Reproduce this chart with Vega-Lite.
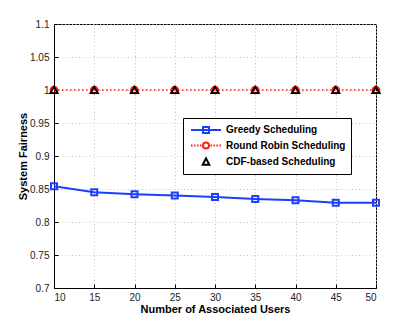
{
  "$schema": "https://vega.github.io/schema/vega-lite/v6.json",
  "width": 322,
  "height": 264,
  "autosize": {"type": "none"},
  "padding": {"left": 54, "top": 24, "right": 39, "bottom": 37},
  "background": "white",
  "config": {
    "font": "Liberation Sans",
    "view": {"stroke": "black", "strokeWidth": 1},
    "axis": {
      "labelFont": "Liberation Sans",
      "labelFontSize": 10,
      "labelColor": "#222",
      "titleFont": "Liberation Sans",
      "titleFontSize": 11,
      "titleFontWeight": "bold",
      "titleColor": "black",
      "gridColor": "#c4c4c4",
      "gridDash": [1, 2.5],
      "gridWidth": 1,
      "domainColor": "black",
      "tickColor": "black",
      "tickSize": -4,
      "labelPadding": 8
    }
  },
  "data": {
    "values": [
      {"series": "Greedy Scheduling", "users": 10, "fairness": 0.854},
      {"series": "Greedy Scheduling", "users": 15, "fairness": 0.845},
      {"series": "Greedy Scheduling", "users": 20, "fairness": 0.842},
      {"series": "Greedy Scheduling", "users": 25, "fairness": 0.840},
      {"series": "Greedy Scheduling", "users": 30, "fairness": 0.838},
      {"series": "Greedy Scheduling", "users": 35, "fairness": 0.835},
      {"series": "Greedy Scheduling", "users": 40, "fairness": 0.833},
      {"series": "Greedy Scheduling", "users": 45, "fairness": 0.829},
      {"series": "Greedy Scheduling", "users": 50, "fairness": 0.829},
      {"series": "Round Robin Scheduling", "users": 10, "fairness": 1.0},
      {"series": "Round Robin Scheduling", "users": 15, "fairness": 1.0},
      {"series": "Round Robin Scheduling", "users": 20, "fairness": 1.0},
      {"series": "Round Robin Scheduling", "users": 25, "fairness": 1.0},
      {"series": "Round Robin Scheduling", "users": 30, "fairness": 1.0},
      {"series": "Round Robin Scheduling", "users": 35, "fairness": 1.0},
      {"series": "Round Robin Scheduling", "users": 40, "fairness": 1.0},
      {"series": "Round Robin Scheduling", "users": 45, "fairness": 1.0},
      {"series": "Round Robin Scheduling", "users": 50, "fairness": 1.0},
      {"series": "CDF-based Scheduling", "users": 10, "fairness": 1.0},
      {"series": "CDF-based Scheduling", "users": 15, "fairness": 1.0},
      {"series": "CDF-based Scheduling", "users": 20, "fairness": 1.0},
      {"series": "CDF-based Scheduling", "users": 25, "fairness": 1.0},
      {"series": "CDF-based Scheduling", "users": 30, "fairness": 1.0},
      {"series": "CDF-based Scheduling", "users": 35, "fairness": 1.0},
      {"series": "CDF-based Scheduling", "users": 40, "fairness": 1.0},
      {"series": "CDF-based Scheduling", "users": 45, "fairness": 1.0},
      {"series": "CDF-based Scheduling", "users": 50, "fairness": 1.0}
    ]
  },
  "encoding": {
    "x": {
      "field": "users",
      "type": "quantitative",
      "scale": {"domain": [10, 50], "nice": false, "zero": false},
      "axis": {"title": "Number of Associated Users", "values": [10, 15, 20, 25, 30, 35, 40, 45, 50], "labelPadding": 8, "titlePadding": 1}
    },
    "y": {
      "field": "fairness",
      "type": "quantitative",
      "scale": {"domain": [0.7, 1.1], "nice": false, "zero": false},
      "axis": {"title": "System Fairness", "values": [0.7, 0.75, 0.8, 0.85, 0.9, 0.95, 1.0, 1.05, 1.1], "labelExpr": "format(datum.value, '.3~g')", "labelPadding": 9, "titlePadding": 1}
    }
  },
  "layer": [
    {
      "transform": [{"filter": "datum.series == 'Greedy Scheduling'"}],
      "mark": {"type": "line", "color": "#1f3fff", "strokeWidth": 2},
      "encoding": {}
    },
    {
      "transform": [{"filter": "datum.series == 'Round Robin Scheduling'"}],
      "mark": {"type": "line", "color": "#ff1a1a", "strokeWidth": 1.5, "strokeDash": [1.5, 2.5]},
      "encoding": {}
    },
    {
      "transform": [{"filter": "datum.series == 'Greedy Scheduling'"}],
      "mark": {"type": "point", "shape": "square", "filled": false, "color": "#1f3fff", "strokeWidth": 2, "size": 36, "opacity": 1},
      "encoding": {}
    },
    {
      "transform": [{"filter": "datum.series == 'Round Robin Scheduling'"}],
      "mark": {"type": "point", "shape": "circle", "filled": false, "color": "#ff1a1a", "strokeWidth": 2, "size": 45, "opacity": 1},
      "encoding": {}
    },
    {
      "transform": [{"filter": "datum.series == 'CDF-based Scheduling'"}],
      "mark": {"type": "point", "shape": "triangle-up", "filled": false, "color": "#000000", "strokeWidth": 1.8, "size": 55, "opacity": 1},
      "encoding": {}
    },
    {
      "mark": {"type": "point", "filled": false, "size": 0, "strokeWidth": 0, "opacity": 1},
      "encoding": {
        "color": {
          "field": "series",
          "type": "nominal",
          "scale": {"domain": ["Greedy Scheduling", "Round Robin Scheduling", "CDF-based Scheduling"], "range": ["#1f3fff", "#ff1a1a", "#000000"]},
          "legend": {
            "orient": "none",
            "legendX": 129,
            "legendY": 94,
            "direction": "vertical",
            "title": null,
            "strokeColor": "black",
            "fillColor": "white",
            "padding": 5,
            "cornerRadius": 0,
            "labelFont": "Liberation Sans",
            "labelFontSize": 10,
            "labelFontWeight": "bold",
            "labelColor": "black",
            "symbolSize": 144,
            "symbolStrokeWidth": 2,
            "symbolOffset": 11,
            "labelOffset": 13,
            "rowPadding": 1.5,
            "encoding": {
              "symbols": {
                "shape": {"value": {"expr": "datum.value == 'Greedy Scheduling' ? 'M-2.5,0H2.5M-0.5,-0.5H0.5V0.5H-0.5Z' : datum.value == 'Round Robin Scheduling' ? 'M-2.5,0H-2.25M-2,0H-1.75M-1.5,0H-1.25M-1,0H-0.75M0.75,0H1M1.25,0H1.5M1.75,0H2M2.25,0H2.5M0.5,0A0.5,0.5,0,1,1,-0.5,0A0.5,0.5,0,1,1,0.5,0Z' : 'M0,-0.6L0.55,0.45H-0.55Z'"}},
                "strokeWidth": {"value": 2},
                "fill": {"value": "transparent"}
              }
            }
          }
        }
      }
    }
  ]
}
